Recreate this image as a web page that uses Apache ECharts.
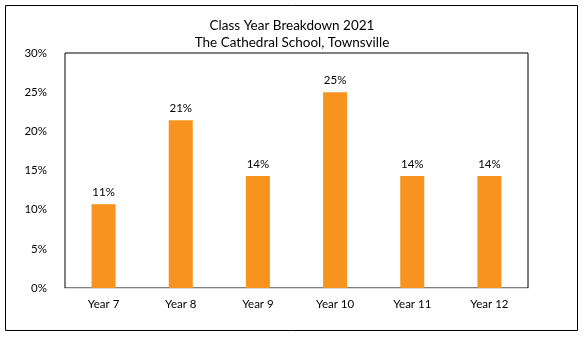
<!DOCTYPE html>
<html><head><meta charset="utf-8">
<script src="https://cdn.jsdelivr.net/npm/echarts@6/dist/echarts.min.js"></script>
<style>html,body{margin:0;padding:0;background:#fff}#c{width:584px;height:339px}</style>
</head><body><div id="c"></div>
<script>
const categories = ['Year 7','Year 8','Year 9','Year 10','Year 11','Year 12'];
const shares = [10.7, 21.4, 14.3, 25.0, 14.3, 14.3];
const titleLines = ['Class Year Breakdown 2021','The Cathedral School, Townsville'];
const yTicks = {min:0, max:30, interval:5};

const chart = echarts.init(document.getElementById('c'), null, {renderer:'canvas'});
const font = 'Lato, "Liberation Sans", Arial, sans-serif';
chart.setOption({
  animation:false,
  title:{text:titleLines.join('\n'), left:'center', top:12,
    textStyle:{fontFamily:font, fontSize:13.5, fontWeight:'normal', color:'#000', lineHeight:17}},
  graphic:[{type:'rect', shape:{x:5.5,y:5.5,width:572,height:325}, style:{fill:null, stroke:'#000', lineWidth:1}, z:-1}],
  grid:{left:65, right:56, top:53, bottom:51, show:true, borderColor:'#000', borderWidth:1, backgroundColor:'transparent'},
  xAxis:{type:'category', data:categories,
    axisLine:{lineStyle:{color:'#d9d9d9', width:1}}, axisTick:{show:false},
    axisLabel:{fontFamily:font, fontSize:11.5, color:'#000', margin:10}},
  yAxis:{type:'value', min:yTicks.min, max:yTicks.max, interval:yTicks.interval,
    splitLine:{show:false}, axisLine:{show:false}, axisTick:{show:false},
    axisLabel:{fontFamily:font, fontSize:11.5, color:'#000', margin:18, formatter:v=>v+'%'}},
  series:[{type:'bar', data:shares, barWidth:24, itemStyle:{color:'#f7931e'},
    label:{show:true, position:'top', distance:6, fontFamily:font, fontSize:11.5, color:'#000',
      formatter:p=>Math.round(p.value)+'%'}}]
});
</script></body></html>
